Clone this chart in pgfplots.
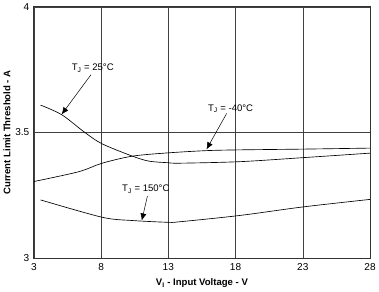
\documentclass[border=0pt]{standalone}
\usepackage{pgfplots}
\pgfplotsset{compat=1.18}
\usepackage{fontspec}
\setmainfont{Liberation Sans}
\usetikzlibrary{arrows.meta}
\begin{document}
\begin{tikzpicture}[x=1bp,y=1bp]
\begin{axis}[
  scale only axis,
  width=333bp, height=249bp,
  xmin=3, xmax=28, ymin=3, ymax=4,
  xtick={3,8,13,18,23,28},
  ytick={3,3.5,4},
  yticklabels={3,3.5,4},
  grid=major,
  major grid style={black!75, line width=0.6pt},
  axis line style={black!80, line width=0.8pt},
  major tick length=0pt,
  tick label style={font=\fontsize{10}{11}\selectfont},
  /pgf/number format/assume math mode=true,
  xticklabel style={yshift=-2bp},
  yticklabel style={xshift=-1bp},
  xlabel={\bfseries V\textsubscript{I} - Input Voltage - V},
  ylabel={\bfseries Current Limit Threshold - A},
  label style={font=\fontsize{9.5}{11}\selectfont},
  xlabel style={yshift=-1bp},
  ylabel style={yshift=-2bp},
  clip=false,
]
% T_J = 25 C
\addplot[black, line width=0.65pt, smooth, tension=0.5, mark=none] coordinates {(3.5,3.609) (5.07,3.571) (6.8,3.50) (8.08,3.455) (10.33,3.406) (11.58,3.386) (12.96,3.380) (13.84,3.378) (18.3,3.384) (23,3.400) (28,3.418)};
% T_J = -40 C
\addplot[black, line width=0.65pt, smooth, tension=0.5, mark=none] coordinates {(3,3.305) (6.33,3.344) (8.08,3.378) (10.33,3.406) (12.96,3.419) (15.84,3.428) (18.3,3.431) (23,3.434) (28,3.438)};
% T_J = 150 C
\addplot[black, line width=0.65pt, smooth, tension=0.5, mark=none] coordinates {(3.5,3.232) (8.08,3.163) (10.33,3.150) (12.96,3.143) (13.84,3.145) (18.3,3.170) (23,3.204) (28,3.234)};

\node[font=\fontsize{9.5}{10}\selectfont] at (axis cs:7.38,3.755) {T\textsubscript{J} = 25°C};
\node[font=\fontsize{9.5}{10}\selectfont] at (axis cs:17.63,3.594) {T\textsubscript{J} = -40°C};
\node[font=\fontsize{9.5}{10}\selectfont] at (axis cs:11.33,3.274) {T\textsubscript{J} = 150°C};
\draw[-{Latex[length=7bp,width=6bp]}, line width=0.5pt] (axis cs:7.25,3.73) -- (axis cs:5.07,3.572);
\draw[-{Latex[length=7bp,width=6bp]}, line width=0.5pt] (axis cs:17.34,3.576) -- (axis cs:15.84,3.433);
\draw[-{Latex[length=7bp,width=6bp]}, line width=0.5pt] (axis cs:11.45,3.248) -- (axis cs:11.03,3.150);
\end{axis}
\end{tikzpicture}
\end{document}
